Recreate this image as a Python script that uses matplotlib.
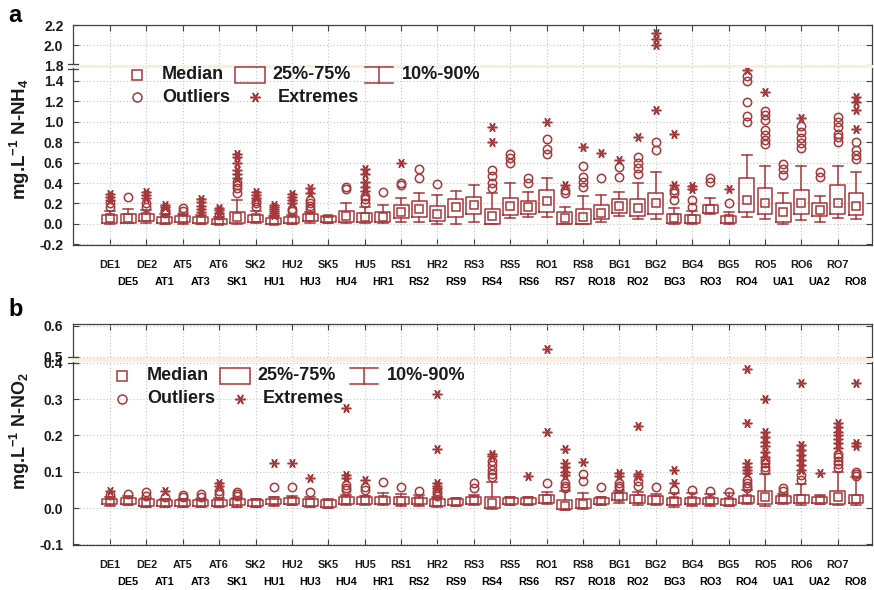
import matplotlib
matplotlib.use('Agg')
import matplotlib.pyplot as plt
from matplotlib.lines import Line2D
from matplotlib.patches import Rectangle
import numpy as np

plt.rcParams['font.family'] = ['Liberation Sans', 'DejaVu Sans']
plt.rcParams['font.weight'] = 'bold'
plt.rcParams['axes.unicode_minus'] = False
plt.rcParams['mathtext.fontset'] = 'custom'
plt.rcParams['mathtext.rm'] = 'Liberation Sans:bold'
plt.rcParams['mathtext.bf'] = 'Liberation Sans:bold'
plt.rcParams['mathtext.default'] = 'bf'

# ---------------- data ----------------
stations = ["DE1", "DE5", "DE2", "AT1", "AT5", "AT3", "AT6", "SK1", "SK2", "HU1",
            "HU2", "HU3", "SK5", "HU4", "HU5", "HR1", "RS1", "RS2", "HR2", "RS9",
            "RS3", "RS4", "RS5", "RS6", "RO1", "RS7", "RS8", "RO18", "BG1", "RO2",
            "BG2", "BG3", "BG4", "RO3", "BG5", "RO4", "RO5", "UA1", "RO6", "UA2",
            "RO7", "RO8"]

# Panel a: N-NH4 (mg/L)
nh4_med = [0.055, 0.06, 0.07, 0.04, 0.05, 0.04, 0.03, 0.07, 0.06, 0.03,
           0.04, 0.07, 0.05, 0.08, 0.07, 0.07, 0.12, 0.15, 0.10, 0.17,
           0.19, 0.08, 0.18, 0.17, 0.22, 0.06, 0.07, 0.11, 0.18, 0.16,
           0.20, 0.06, 0.05, 0.15, 0.05, 0.23, 0.20, 0.12, 0.20, 0.14,
           0.20, 0.18]
nh4_q25 = [0.01, 0.01, 0.03, 0.01, 0.02, 0.01, 0.0, 0.01, 0.02, 0.0,
           0.01, 0.03, 0.02, 0.02, 0.02, 0.02, 0.06, 0.07, 0.03, 0.07,
           0.10, 0.0, 0.09, 0.10, 0.12, 0.0, 0.0, 0.05, 0.11, 0.08,
           0.10, 0.01, 0.01, 0.11, 0.01, 0.12, 0.10, 0.02, 0.10, 0.08,
           0.10, 0.09]
nh4_q75 = [0.09, 0.10, 0.10, 0.07, 0.08, 0.07, 0.05, 0.12, 0.09, 0.06,
           0.07, 0.10, 0.08, 0.13, 0.11, 0.12, 0.19, 0.22, 0.18, 0.24,
           0.26, 0.15, 0.25, 0.22, 0.33, 0.12, 0.15, 0.19, 0.24, 0.24,
           0.30, 0.10, 0.09, 0.19, 0.08, 0.45, 0.35, 0.20, 0.33, 0.20,
           0.38, 0.30]
nh4_p10 = [0.0, 0.01, 0.01, 0.0, 0.0, 0.0, 0.0, 0.0, 0.01, 0.0,
           0.0, 0.01, 0.01, 0.01, 0.01, 0.01, 0.02, 0.02, 0.0, 0.0,
           0.02, 0.0, 0.06, 0.07, 0.07, 0.0, 0.0, 0.02, 0.08, 0.05,
           0.05, 0.0, 0.0, 0.10, 0.0, 0.07, 0.05, 0.0, 0.04, 0.02,
           0.06, 0.05]
nh4_p90 = [0.13, 0.15, 0.14, 0.10, 0.10, 0.09, 0.07, 0.23, 0.13, 0.08,
           0.09, 0.12, 0.07, 0.20, 0.17, 0.19, 0.25, 0.30, 0.28, 0.32,
           0.38, 0.30, 0.40, 0.31, 0.45, 0.17, 0.27, 0.28, 0.31, 0.40,
           0.51, 0.16, 0.13, 0.25, 0.12, 0.67, 0.57, 0.30, 0.57, 0.27,
           0.57, 0.51]
nh4_outliers = [[0.17, 0.20], [0.26], [0.17, 0.20], [0.11, 0.13, 0.14], [0.13, 0.16],
                [], [0.09], [0.30, 0.35, 0.38, 0.41], [0.17, 0.20, 0.22], [],
                [0.13, 0.15], [0.15, 0.18, 0.20, 0.23], [], [0.34, 0.36], [0.20, 0.24, 0.27],
                [0.31], [0.38, 0.40], [0.45, 0.54], [0.39], [],
                [], [0.35, 0.40, 0.47, 0.53], [0.60, 0.64, 0.68], [0.40, 0.45], [0.68, 0.73, 0.83],
                [0.30, 0.33], [0.36, 0.41, 0.46, 0.57], [0.45], [0.46, 0.56], [0.49, 0.55, 0.60, 0.65],
                [0.72, 0.80], [0.23, 0.30, 0.33], [0.17, 0.23], [0.41, 0.45], [0.20],
                [1.0, 1.05, 1.19, 1.40, 1.44], [0.78, 0.82, 0.87, 0.92, 1.01, 1.06, 1.10],
                [0.48, 0.54, 0.59], [0.74, 0.79, 0.84, 0.90, 0.96], [0.46, 0.51],
                [0.80, 0.85, 0.88, 0.95, 1.0, 1.04], [0.63, 0.67, 0.72, 0.80]]
nh4_extremes = [[0.23, 0.26, 0.29], [], [0.25, 0.28, 0.31], [0.17, 0.19], [],
                [0.12, 0.15, 0.18, 0.21, 0.24], [0.11, 0.14, 0.16],
                [0.45, 0.49, 0.53, 0.60, 0.65, 0.68], [0.25, 0.28, 0.31],
                [0.09, 0.11, 0.13, 0.15, 0.17, 0.19],
                [0.20, 0.23, 0.26, 0.29], [0.30, 0.35], [], [], [0.32, 0.36, 0.41, 0.49, 0.54],
                [], [0.60], [], [], [],
                [], [0.80, 0.95], [], [], [1.0],
                [0.38], [0.75], [0.69], [0.62], [0.85],
                [1.11, 2.0, 2.06, 2.12], [0.38, 0.88], [0.34, 0.37], [], [0.34],
                [1.50], [1.29], [], [1.03], [],
                [], [0.93, 1.11, 1.19, 1.24]]

# Panel b: N-NO2 (mg/L)
no2_med = [0.018, 0.020, 0.014, 0.013, 0.014, 0.014, 0.013, 0.015, 0.013, 0.018,
           0.020, 0.014, 0.012, 0.021, 0.021, 0.022, 0.020, 0.019, 0.016, 0.017,
           0.021, 0.014, 0.020, 0.019, 0.024, 0.005, 0.010, 0.019, 0.030, 0.025,
           0.022, 0.018, 0.020, 0.019, 0.017, 0.025, 0.030, 0.024, 0.025, 0.023,
           0.030, 0.025]
no2_q25 = [0.010, 0.012, 0.005, 0.005, 0.005, 0.005, 0.005, 0.008, 0.006, 0.010,
           0.012, 0.005, 0.003, 0.012, 0.012, 0.012, 0.011, 0.010, 0.005, 0.009,
           0.012, 0.0, 0.012, 0.011, 0.014, -0.004, 0.0, 0.011, 0.022, 0.013,
           0.012, 0.008, 0.010, 0.010, 0.008, 0.014, 0.010, 0.014, 0.013, 0.014,
           0.012, 0.013]
no2_q75 = [0.026, 0.027, 0.024, 0.022, 0.022, 0.022, 0.023, 0.024, 0.022, 0.025,
           0.027, 0.025, 0.022, 0.030, 0.029, 0.030, 0.029, 0.028, 0.026, 0.025,
           0.029, 0.030, 0.028, 0.027, 0.035, 0.022, 0.024, 0.027, 0.040, 0.035,
           0.032, 0.028, 0.028, 0.028, 0.025, 0.034, 0.048, 0.032, 0.035, 0.030,
           0.048, 0.035]
no2_p10 = [0.005, 0.008, 0.003, 0.002, 0.003, 0.003, 0.002, 0.004, 0.003, 0.006,
           0.007, 0.003, 0.0, 0.007, 0.007, 0.007, 0.006, 0.005, 0.002, 0.005,
           0.008, -0.002, 0.008, 0.007, 0.010, -0.006, -0.003, 0.007, 0.015, 0.009,
           0.008, 0.004, 0.006, 0.006, 0.005, 0.010, 0.005, 0.010, 0.008, 0.010,
           0.008, 0.008]
no2_p90 = [0.030, 0.032, 0.028, 0.025, 0.026, 0.026, 0.028, 0.028, 0.025, 0.030,
           0.032, 0.030, 0.026, 0.036, 0.034, 0.042, 0.038, 0.035, 0.030, 0.028,
           0.036, 0.072, 0.030, 0.030, 0.045, 0.048, 0.040, 0.030, 0.048, 0.045,
           0.038, 0.040, 0.040, 0.038, 0.040, 0.050, 0.095, 0.038, 0.065, 0.035,
           0.100, 0.085]
no2_outliers = [[0.035], [0.039], [0.033, 0.045], [0.030], [0.030, 0.035],
                [0.030, 0.038], [0.038, 0.048], [0.033, 0.038, 0.043], [], [0.059],
                [0.059], [0.045], [], [0.050, 0.056, 0.063], [0.049, 0.057],
                [0.072], [0.058], [0.048], [0.034, 0.040, 0.046], [],
                [0.054, 0.068], [0.085, 0.095, 0.105, 0.118, 0.130], [], [], [0.070],
                [0.055, 0.062, 0.070], [0.075, 0.095], [0.058], [0.054, 0.062, 0.070], [0.060, 0.075],
                [0.058], [0.050], [0.050], [0.048], [0.045],
                [0.055, 0.062, 0.070, 0.078], [0.105, 0.114, 0.123, 0.132], [0.048, 0.054],
                [0.077, 0.090], [], [0.110, 0.120, 0.130, 0.140, 0.150], [0.088, 0.095, 0.100]]
no2_extremes = [[0.048], [], [], [0.046], [],
                [], [0.060, 0.070], [], [], [0.123],
                [0.125], [0.082], [], [0.082, 0.090, 0.275], [0.077],
                [], [], [], [0.055, 0.062, 0.070, 0.162, 0.315], [],
                [], [0.143, 0.150], [], [0.088], [0.210, 0.525],
                [0.090, 0.100, 0.114, 0.123, 0.162], [0.128], [], [0.087, 0.096], [0.087, 0.095, 0.225],
                [], [0.068, 0.105], [], [], [],
                [0.096, 0.105, 0.114, 0.123, 0.233, 0.383],
                [0.140, 0.155, 0.170, 0.183, 0.197, 0.210, 0.300], [],
                [0.105, 0.118, 0.132, 0.146, 0.160, 0.174, 0.345], [0.097],
                [0.165, 0.178, 0.190, 0.200, 0.210, 0.222, 0.233], [0.170, 0.180, 0.345]]

# ---------------- style ----------------
RED = '#A5383A'
AXC = '#404040'
LW = 1.1
W, H = 874, 590

fig = plt.figure(figsize=(W / 100, H / 100), dpi=100)


def fr(x0, y0, x1, y1):
    return [x0 / W, 1 - y1 / H, (x1 - x0) / W, (y1 - y0) / H]


def draw(ax, med, q1, q3, lo, hi, outl, extr):
    pos = np.arange(len(stations))
    stats = [dict(med=m, q1=a, q3=b, whislo=l, whishi=h, fliers=[])
             for m, a, b, l, h in zip(med, q1, q3, lo, hi)]
    ax.bxp(stats, positions=pos, widths=0.82, capwidths=0.55, showfliers=False,
           manage_ticks=False,
           boxprops=dict(color=RED, lw=LW), whiskerprops=dict(color=RED, lw=LW),
           capprops=dict(color=RED, lw=LW), medianprops=dict(lw=0))
    ax.plot(pos, med, ls='none', marker='s', ms=6, mfc='none', mec=RED, mew=LW)
    ox = [p for p, vals in zip(pos, outl) for _ in vals]
    oy = [v for vals in outl for v in vals]
    ax.plot(ox, oy, ls='none', marker='o', ms=6, mfc='none', mec=RED, mew=LW)
    ex = [p for p, vals in zip(pos, extr) for _ in vals]
    ey = [v for vals in extr for v in vals]
    ax.plot(ex, ey, ls='none', marker=(6, 2, 90), ms=7, mec=RED, mew=LW)


def style(ax, top):
    ax.set_xlim(-2.03, 41.88)
    ax.set_xticks(range(0, 42, 2))
    ax.grid(True, which='major', ls=(0, (1, 2)), color='#c4c4c4', lw=0.8)
    ax.set_axisbelow(True)
    for s in ax.spines.values():
        s.set_color(AXC)
        s.set_linewidth(0.9)
    ax.tick_params(direction='in', length=4, width=0.8, color=AXC, labelcolor='#1a1a1a',
                   labelsize=10, right=True, top=True, pad=7)
    if top:
        ax.spines['bottom'].set_visible(False)
        ax.tick_params(axis='x', bottom=False, labelbottom=False)
    else:
        ax.spines['top'].set_visible(False)
        ax.tick_params(axis='x', top=False)
        ax.set_xticklabels(stations[0::2])
        ax.set_xticks(range(1, 42, 2), minor=True)
        ax.set_xticklabels(stations[1::2], minor=True)
        ax.tick_params(axis='x', which='major', labelsize=7.8, pad=10.5)
        ax.tick_params(axis='x', which='minor', labelsize=7.8, pad=23, length=0)
    ax.yaxis.set_major_formatter(matplotlib.ticker.FormatStrFormatter('%.1f'))


def brk(yb):
    fig.add_artist(Rectangle((72 / W, 1 - (yb + 1.8) / H), (874 - 72) / W, 3.6 / H,
                             transform=fig.transFigure, color='#fbeedd', lw=0, zorder=1))
    for dy in (-2.6, 2.6):
        fig.add_artist(Line2D([68 / W, 78 / W], [1 - (yb + dy) / H] * 2,
                              transform=fig.transFigure, color=AXC, lw=0.9, zorder=2))


def legend(x0, y0):
    def P(x, y):
        return (x0 + x) / W, 1 - (y0 + y) / H
    kw = dict(transform=fig.transFigure, zorder=3)
    fx, fy = P(0, 0)
    fig.add_artist(Line2D([fx], [fy], marker='s', ms=6.5, mfc='none', mec=RED, mew=LW, **kw))
    fx, fy = P(0, 22.5)
    fig.add_artist(Line2D([fx], [fy], marker='o', ms=6.5, mfc='none', mec=RED, mew=LW, **kw))
    fx, fy = P(118, 22.5)
    fig.add_artist(Line2D([fx], [fy], marker=(6, 2, 90), ms=7.5, mec=RED, mew=LW, **kw))
    x1, y1 = P(98, 8)
    x2, y2 = P(128, -8)
    fig.add_artist(Rectangle((x1, y1), x2 - x1, y2 - y1, fill=False, ec=RED, lw=LW, **kw))
    # whisker symbol
    a, b = P(228, -8)
    c, d = P(256, 8)
    m = (a + c) / 2
    fig.add_artist(Line2D([a, c], [b, b], color=RED, lw=LW, **kw))
    fig.add_artist(Line2D([a, c], [d, d], color=RED, lw=LW, **kw))
    fig.add_artist(Line2D([m, m], [b, d], color=RED, lw=LW, **kw))
    tk = dict(fontsize=13, fontweight='bold', va='center', ha='left', color='#1a1a1a',
              zorder=4)
    for (tx, ty, s) in [(25, 0, 'Median'), (135, 0, '25%-75%'), (265, 0, '10%-90%'),
                        (25, 22.5, 'Outliers'), (141, 22.5, 'Extremes')]:
        fx, fy = P(tx, ty)
        fig.text(fx, fy, s, **tk)


# ---------------- panel a ----------------
axA_top = fig.add_axes(fr(73, 25, 872, 67))
axA_bot = fig.add_axes(fr(73, 67, 872, 245))
for ax in (axA_top, axA_bot):
    draw(ax, nh4_med, nh4_q25, nh4_q75, nh4_p10, nh4_p90, nh4_outliers, nh4_extremes)
axA_top.set_ylim(1.78, 2.205)
axA_top.set_yticks([1.8, 2.0, 2.2])
axA_bot.set_ylim(-0.205, 1.532)
axA_bot.set_yticks(np.round(np.arange(-0.2, 1.41, 0.2), 1))
style(axA_top, True)
style(axA_bot, False)
brk(66.5)
legend(137, 74.5)

# ---------------- panel b ----------------
axB_top = fig.add_axes(fr(73, 324, 872, 360))
axB_bot = fig.add_axes(fr(73, 360, 872, 545))
for ax in (axB_top, axB_bot):
    draw(ax, no2_med, no2_q25, no2_q75, no2_p10, no2_p90, no2_outliers, no2_extremes)
axB_top.set_ylim(0.49, 0.605)
axB_top.set_yticks([0.5, 0.6])
axB_bot.set_ylim(-0.102, 0.408)
axB_bot.set_yticks(np.round(np.arange(-0.1, 0.41, 0.1), 1))
style(axB_top, True)
style(axB_bot, False)
brk(360)
legend(122, 376)

# axis titles and panel letters
fig.text(20 / W, 1 - 139 / H, r'mg.L$^{-1}$ N-NH$_4$', rotation=90, ha='center', va='center',
         fontsize=13.5, fontweight='bold', color='#1a1a1a')
fig.text(20 / W, 1 - 431 / H, r'mg.L$^{-1}$ N-NO$_2$', rotation=90, ha='center', va='center',
         fontsize=13, fontweight='bold', color='#1a1a1a')
fig.text(8 / W, 1 - 15 / H, 'a', fontsize=17, fontweight='bold', va='center', ha='left')
fig.text(8 / W, 1 - 309 / H, 'b', fontsize=17, fontweight='bold', va='center', ha='left')

fig.savefig('out.png', dpi=100, facecolor='white')
